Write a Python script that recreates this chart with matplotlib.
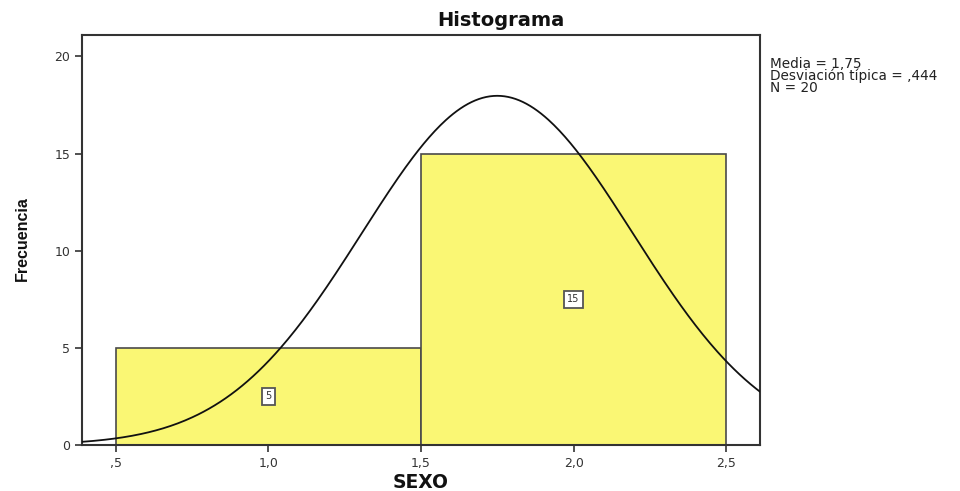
import numpy as np
import matplotlib
matplotlib.use("Agg")
import matplotlib.pyplot as plt
from matplotlib import font_manager

# Histogram of SEXO with fitted normal curve
bin_edges = [0.5, 1.5, 2.5]
counts = [5, 15]
mean_val = 1.75
std_val = 0.444
n_total = 20
xticks = [0.5, 1.0, 1.5, 2.0, 2.5]
xtick_labels = [",5", "1,0", "1,5", "2,0", "2,5"]
yticks = [0, 5, 10, 15, 20]
stats_lines = ["Media = 1,75", "Desviación típica = ,444", "N = 20"]

names = {f.name for f in font_manager.fontManager.ttflist}
narrow = "Liberation Sans Narrow" if "Liberation Sans Narrow" in names else "Liberation Sans"
plt.rcParams["font.family"] = ["DejaVu Sans"]

fig = plt.figure(figsize=(9.6, 4.91), dpi=100)
ax = fig.add_axes([82 / 960, 1 - 445 / 491, (760 - 82) / 960, (445 - 35) / 491])

widths = np.diff(bin_edges)
ax.bar(bin_edges[:-1], counts, width=widths, align="edge",
       color="#FAF774", edgecolor="#4a4a4a", linewidth=1.2, zorder=2)

xs = np.linspace(0.3, 2.7, 400)
binw = widths[0]
ys = n_total * binw * np.exp(-0.5 * ((xs - mean_val) / std_val) ** 2) / (std_val * np.sqrt(2 * np.pi))
ax.plot(xs, ys, color="#111111", linewidth=1.3, zorder=3)

for left, w, c in zip(bin_edges[:-1], widths, counts):
    ax.text(left + w / 2, c / 2, str(c), ha="center", va="center", fontsize=7,
            color="#333333", zorder=4,
            bbox=dict(boxstyle="square,pad=0.35", facecolor="white",
                      edgecolor="#555555", linewidth=1.3))

ax.set_xlim(0.389, 2.611)
ax.set_ylim(0, 21.1)
ax.set_xticks(xticks)
ax.set_xticklabels(xtick_labels)
ax.set_yticks(yticks)
ax.tick_params(direction="out", length=5, width=1.2, colors="#333333",
               labelsize=9, labelcolor="#333333")
for s in ax.spines.values():
    s.set_linewidth(1.5)
    s.set_color("#333333")

fig.text(421 / 960, 1 - 482 / 491, "SEXO", ha="center", va="center",
         fontsize=13.5, fontweight="bold", color="#111111")
fig.text(22 / 960, 1 - 239 / 491, "Frecuencia", ha="center", va="center",
         rotation=90, fontsize=13.5 if narrow.endswith("Narrow") else 11.5,
         fontweight="bold", family=narrow, color="#111111")
fig.text(501 / 960, 1 - 20 / 491, "Histograma", ha="center", va="center",
         fontsize=14, fontweight="bold", color="#111111")

fig.text(770 / 960, 1 - 57 / 491, "\n".join(stats_lines), ha="left", va="top",
         fontsize=9.8, linespacing=0.78, color="#222222")

fig.savefig("out.png", dpi=100)
